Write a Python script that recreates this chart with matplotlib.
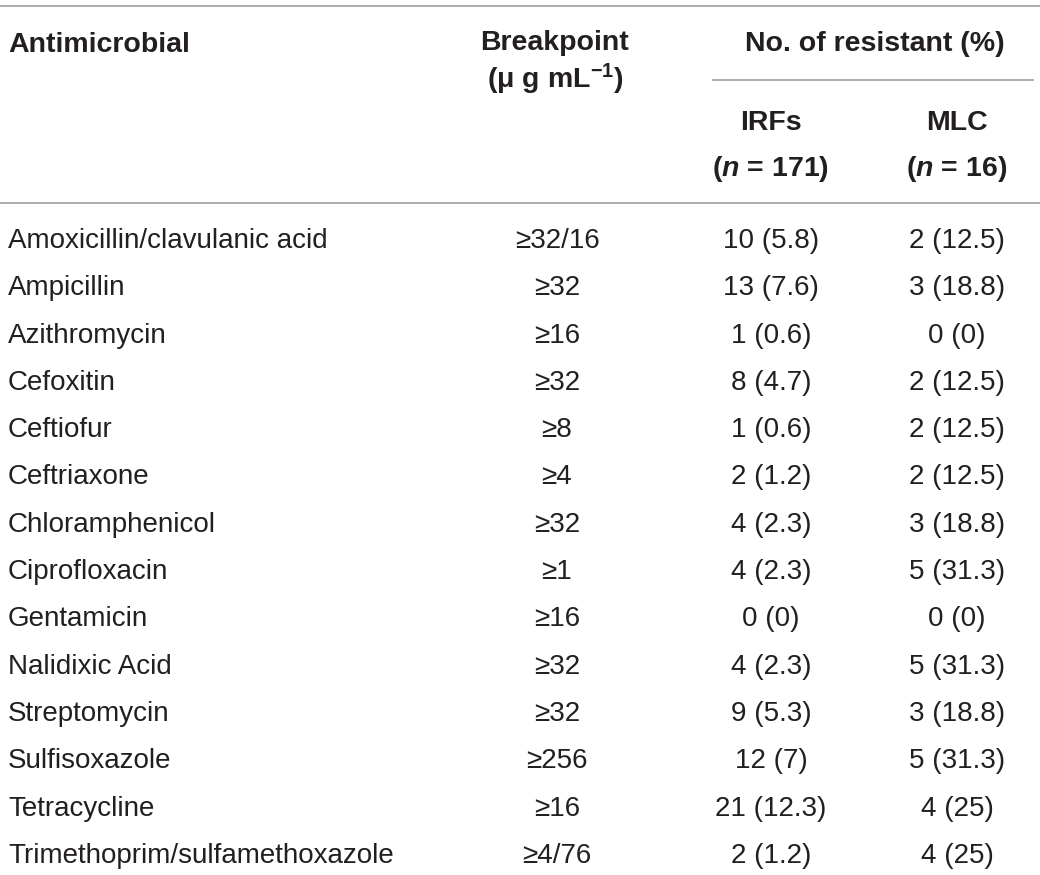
import matplotlib
matplotlib.use("Agg")
import matplotlib.pyplot as plt

plt.rcParams['font.family'] = ['Liberation Sans', 'DejaVu Sans']
plt.rcParams['mathtext.fontset'] = 'custom'
plt.rcParams['mathtext.rm'] = 'Liberation Sans:bold'
plt.rcParams['mathtext.bf'] = 'Liberation Sans:bold'
plt.rcParams['mathtext.it'] = 'Liberation Sans:bold:italic'

antimicrobials = ["Amoxicillin/clavulanic acid", "Ampicillin", "Azithromycin", "Cefoxitin",
                  "Ceftiofur", "Ceftriaxone", "Chloramphenicol", "Ciprofloxacin", "Gentamicin",
                  "Nalidixic Acid", "Streptomycin", "Sulfisoxazole", "Tetracycline",
                  "Trimethoprim/sulfamethoxazole"]
breakpoints = ["32/16", "32", "16", "32", "8", "4", "32", "1", "16", "32", "32", "256", "16", "4/76"]
irfs = ["10 (5.8)", "13 (7.6)", "1 (0.6)", "8 (4.7)", "1 (0.6)", "2 (1.2)", "4 (2.3)", "4 (2.3)",
        "0 (0)", "4 (2.3)", "9 (5.3)", "12 (7)", "21 (12.3)", "2 (1.2)"]
mlc = ["2 (12.5)", "3 (18.8)", "0 (0)", "2 (12.5)", "2 (12.5)", "2 (12.5)", "3 (18.8)", "5 (31.3)",
       "0 (0)", "5 (31.3)", "3 (18.8)", "5 (31.3)", "4 (25)", "4 (25)"]

W, H = 1040, 875
fig = plt.figure(figsize=(W / 100, H / 100), dpi=100)
ax = fig.add_axes([0, 0, 1, 1])
ax.set_xlim(0, W)
ax.set_ylim(H, 0)
ax.axis('off')

txt = '#231f20'
rule = '#a6a6a6'
fs = 20
fs_hd = 20.5
x_name, x_bp, x_irf, x_mlc = 8, 557, 771, 957

# rules
ax.plot([0, W], [6, 6], color=rule, lw=1.3)
ax.plot([713, 1033], [80, 80], color=rule, lw=1.3)
ax.plot([0, W], [203, 203], color=rule, lw=1.3)

# header
hd = dict(fontsize=fs_hd, fontweight='bold', color=txt, va='center')
ax.text(x_name, 45, "Antimicrobial", ha='left', **hd)
ax.text(x_bp - 2, 43, "Breakpoint", ha='center', **hd)
ax.text(x_bp - 2, 79, r"($\mathrm{\mu}$ g mL$^{-1}$)", ha='center', **hd)
ax.text(875, 44, "No. of resistant (%)", ha='center', **hd)
ax.text(x_irf, 123, "IRFs", ha='center', **hd)
ax.text(x_mlc, 123, "MLC", ha='center', **hd)
ax.text(x_irf, 169, r"($n$ = 171)", ha='center', **hd)
ax.text(x_mlc, 169, r"($n$ = 16)", ha='center', **hd)

# body
y0, dy = 241, 47.3
for i, name in enumerate(antimicrobials):
    y = y0 + i * dy
    kw = dict(fontsize=fs, color=txt, va='center')
    ax.text(x_name, y, name, ha='left', **kw)
    ax.text(x_bp, y, "\u2265" + breakpoints[i], ha='center', **kw)
    ax.text(x_irf, y, irfs[i], ha='center', **kw)
    ax.text(x_mlc, y, mlc[i], ha='center', **kw)

fig.savefig("out.png", dpi=100)
